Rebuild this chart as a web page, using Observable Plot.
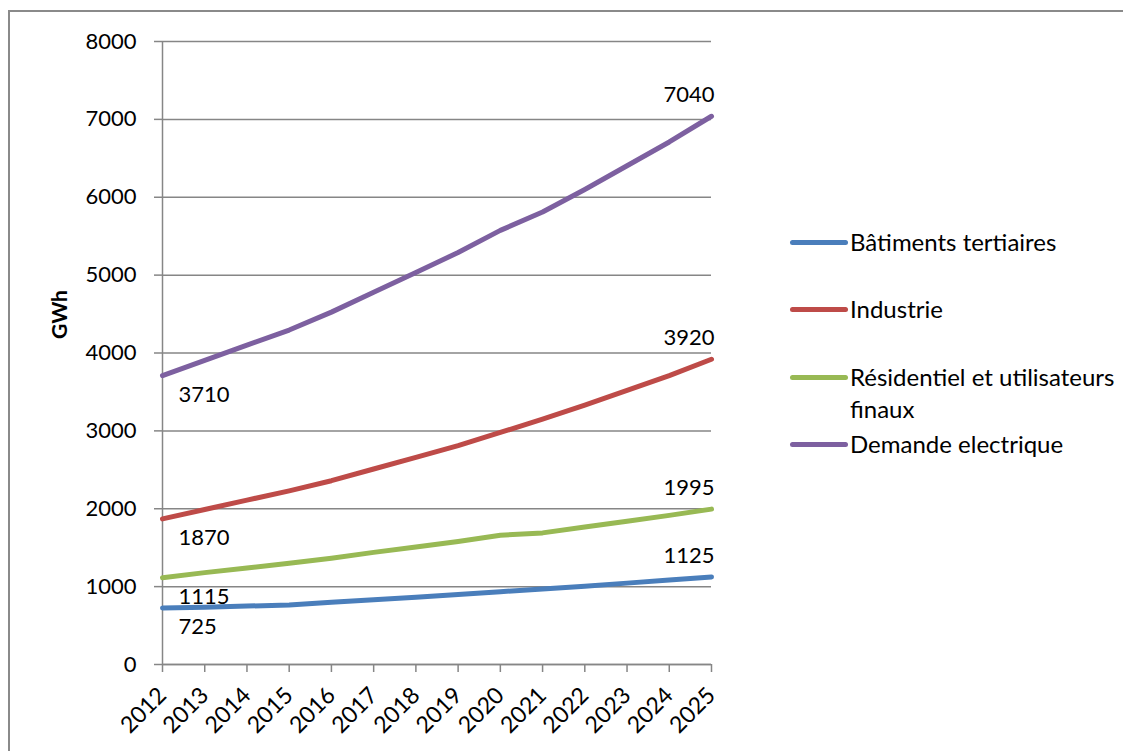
<!DOCTYPE html>
<html>
<head>
<meta charset="utf-8">
<script src="https://cdn.jsdelivr.net/npm/d3@7"></script>
<script src="https://cdn.jsdelivr.net/npm/@observablehq/plot@0.6"></script>
<style>
  html, body { margin: 0; padding: 0; background: #fff; overflow: hidden; }
  #wrap { position: relative; width: 1123px; height: 751px; font-family: Lato, "Open Sans", sans-serif; }
  #frame { position: absolute; left: 8px; top: 10px; width: 1300px; height: 900px; border-left: 2px solid #8a8a8a; border-top: 2px solid #8a8a8a; pointer-events: none; }
  #chart { position: absolute; left: 0; top: 0; }
  .leg { position: absolute; left: 790px; font-size: 24px; color: #000; line-height: 32px; }
  .leg .sw { position: absolute; left: 0; width: 58px; height: 5px; border-radius: 3px; }
  .leg .tx { position: absolute; left: 60px; white-space: nowrap; }
</style>
</head>
<body>
<div id="wrap">
  <div id="chart"></div>
  <div id="legend"></div>
  <div id="frame"></div>
</div>
<script>
const years = [2012, 2013, 2014, 2015, 2016, 2017, 2018, 2019, 2020, 2021, 2022, 2023, 2024, 2025];
const batiments = [725, 735, 750, 765, 800, 830, 865, 900, 935, 970, 1005, 1045, 1085, 1125];
const industrie = [1870, 1990, 2110, 2230, 2360, 2510, 2660, 2810, 2980, 3150, 3330, 3520, 3710, 3920];
const residentiel = [1115, 1180, 1240, 1300, 1365, 1440, 1510, 1580, 1660, 1690, 1765, 1840, 1915, 1995];
const demande = [3710, 3905, 4100, 4295, 4525, 4780, 5035, 5290, 5575, 5810, 6100, 6405, 6710, 7040];
const seriesNames = ["Bâtiments tertiaires", "Industrie", "Résidentiel et utilisateurs finaux", "Demande electrique"];
const seriesColors = ["#4A7EBB", "#BE4B48", "#98B954", "#7D60A0"];
const yTicks = [0, 1000, 2000, 3000, 4000, 5000, 6000, 7000, 8000];
const yLabel = "GWh";

const seriesValues = [batiments, industrie, residentiel, demande];
const data = seriesNames.flatMap((name, s) => years.map((year, i) => ({ year, value: seriesValues[s][i], series: name })));
const firstPts = data.filter(d => d.year === years[0]);
const lastPts = data.filter(d => d.year === years[years.length - 1]);

const chart = Plot.plot({
  width: 1123,
  height: 751,
  marginLeft: 162,
  marginRight: 412,
  marginTop: 41,
  marginBottom: 87,
  style: { fontFamily: "Lato, 'Open Sans', sans-serif", fontSize: "22px", color: "#000", background: "transparent" },
  x: { domain: [years[0], years[years.length - 1]] },
  y: { domain: [0, 8000] },
  color: { domain: seriesNames, range: seriesColors },
  marks: [
    Plot.gridY(yTicks, { stroke: "#868686", strokeOpacity: 1, strokeWidth: 1.5 }),
    Plot.ruleX([years[0]], { stroke: "#868686", strokeWidth: 1.5 }),
    Plot.ruleY([0], { stroke: "#868686", strokeWidth: 1.5 }),
    Plot.axisY(yTicks, { tickSize: 8, tickPadding: 18, stroke: "#868686", strokeWidth: 1.5, label: null, tickFormat: d => String(d), fontSize: 22, fill: "#000" }),
    Plot.axisX(years, { tickSize: 8, tickPadding: 12, tickRotate: -45, stroke: "#868686", strokeWidth: 1.5, label: null, tickFormat: () => "" }),
    Plot.text(years, { x: d => d, frameAnchor: "bottom", text: d => String(d), rotate: -45, textAnchor: "end", lineAnchor: "middle", dx: 0, dy: 27, fontSize: 23, fill: "#000" }),
    Plot.text([yLabel], { frameAnchor: "left", dx: -102, dy: -14, text: d => d, rotate: -90, fontWeight: "bold", fontSize: 21, fill: "#000" }),
    Plot.line(data, { x: "year", y: "value", z: "series", stroke: "series", strokeWidth: 5, strokeLinecap: "round", strokeLinejoin: "round" }),
    Plot.text(firstPts, { x: "year", y: "value", text: d => String(d.value), textAnchor: "start", dx: 16, dy: 19, fontSize: 22, fill: "#000" }),
    Plot.text(lastPts, { x: "year", y: "value", text: d => String(d.value), textAnchor: "end", dx: 3, dy: -21, fontSize: 22, fill: "#000" })
  ]
});
document.getElementById("chart").appendChild(chart);

// Legend
const legendTops = [242, 309, 377, 444];
const legend = document.getElementById("legend");
seriesNames.forEach((name, i) => {
  const item = document.createElement("div");
  item.className = "leg";
  item.style.top = (legendTops[i] - 16) + "px";
  const sw = document.createElement("div");
  sw.className = "sw";
  sw.style.background = seriesColors[i];
  sw.style.top = "14px";
  const tx = document.createElement("div");
  tx.className = "tx";
  if (name === "Résidentiel et utilisateurs finaux") {
    tx.innerHTML = "Résidentiel et utilisateurs<br>finaux";
  } else {
    tx.textContent = name;
  }
  item.appendChild(sw);
  item.appendChild(tx);
  legend.appendChild(item);
});
</script>
</body>
</html>
